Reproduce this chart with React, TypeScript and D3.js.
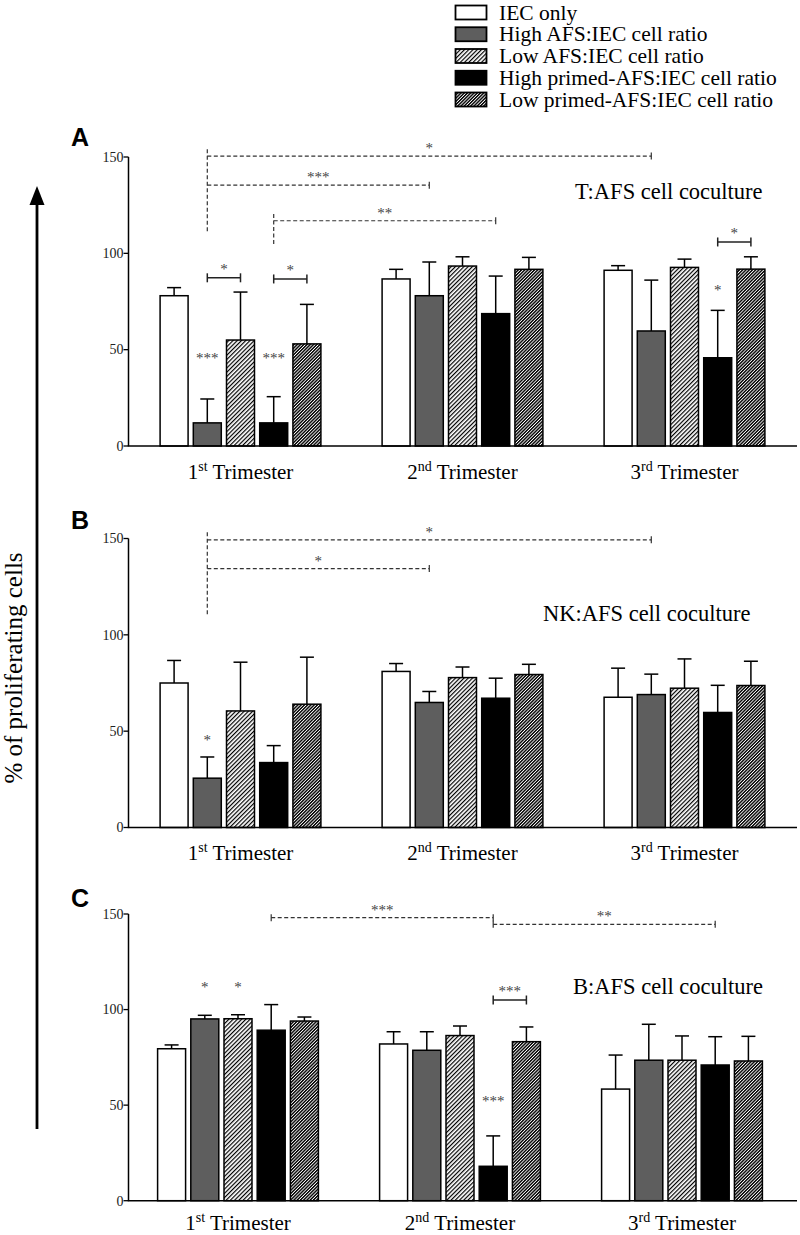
import * as d3 from 'd3';

// groups and series
const trimesters = ['1', '2', '3'];
const trimesterSup = ['st', 'nd', 'rd'];
const seriesNames = [
  'IEC only',
  'High AFS:IEC cell ratio',
  'Low AFS:IEC cell ratio',
  'High primed-AFS:IEC cell ratio',
  'Low primed-AFS:IEC cell ratio',
];
const yTicks = [0, 50, 100, 150];

// A: T cell coculture (mean, SD) per trimester x series
const tMean = [
  [78, 12, 55, 12, 53],
  [86.7, 78, 93.4, 68.7, 91.7],
  [91.2, 59.7, 92.7, 45.8, 91.8],
];
const tSd = [
  [4.2, 12.4, 24.9, 13.6, 20.5],
  [5, 17.5, 4.8, 19.5, 6.2],
  [2.4, 26.4, 4.3, 24.6, 6.4],
];

// B: NK cell coculture
const nkMean = [
  [75, 25.6, 60.5, 33.7, 64],
  [81, 64.9, 77.8, 67.1, 79.4],
  [67.6, 69, 72.3, 59.7, 73.7],
];
const nkSd = [
  [11.7, 11, 25.3, 8.8, 24.4],
  [4.1, 5.7, 5.5, 10.4, 5.3],
  [15.1, 10.6, 15.2, 14.1, 12.6],
];

// C: B cell coculture
const bMean = [
  [79.5, 95.1, 95.2, 89.2, 94],
  [82, 78.7, 86.4, 18, 83.2],
  [58.4, 73.5, 73.5, 71, 73.1],
];
const bSd = [
  [2, 1.9, 2.1, 13.4, 2.1],
  [6.4, 9.7, 5, 15.9, 7.7],
  [17.8, 18.8, 12.7, 14.8, 12.9],
];

// significance marks: [trimester, series] refs, level in y units
type Ref = [number, number];
interface Link { from: Ref; to: Ref; level: number; label: string }
interface Drop { at: Ref; top: number; bottom: number }
interface Mark { at: Ref; level: number; label: string }

const tDashes: Link[] = [
  { from: [0, 1], to: [2, 1], level: 150.5, label: '*' },
  { from: [0, 1], to: [1, 1], level: 135.4, label: '***' },
  { from: [0, 3], to: [1, 3], level: 116.9, label: '**' },
];
const tDrops: Drop[] = [
  { at: [0, 1], top: 154, bottom: 110.7 },
  { at: [0, 3], top: 120.4, bottom: 103.8 },
];
const tBrackets: Link[] = [
  { from: [0, 1], to: [0, 2], level: 87.3, label: '*' },
  { from: [0, 3], to: [0, 4], level: 86.7, label: '*' },
  { from: [2, 3], to: [2, 4], level: 105.9, label: '*' },
];
const tMarks: Mark[] = [
  { at: [0, 1], level: 46.3, label: '***' },
  { at: [0, 3], level: 46.3, label: '***' },
  { at: [2, 3], level: 82, label: '*' },
];

const nkDashes: Link[] = [
  { from: [0, 1], to: [2, 1], level: 149.3, label: '*' },
  { from: [0, 1], to: [1, 1], level: 134.4, label: '*' },
];
const nkDrops: Drop[] = [{ at: [0, 1], top: 153.3, bottom: 109.8 }];
const nkBrackets: Link[] = [];
const nkMarks: Mark[] = [{ at: [0, 1], level: 46.3, label: '*' }];

const bDashes: Link[] = [
  { from: [0, 3], to: [1, 3], level: 148.1, label: '***' },
  { from: [1, 3], to: [2, 3], level: 144.6, label: '**' },
];
const bDrops: Drop[] = [];
const bBrackets: Link[] = [{ from: [1, 3], to: [1, 4], level: 105, label: '***' }];
const bMarks: Mark[] = [
  { at: [0, 1], level: 112.5, label: '*' },
  { at: [0, 2], level: 112.5, label: '*' },
  { at: [1, 3], level: 53.2, label: '***' },
];

const panels = [
  {
    letter: 'A', title: 'T:AFS cell coculture', mean: tMean, sd: tSd,
    dashes: tDashes, drops: tDrops, brackets: tBrackets, marks: tMarks, leftTicks: false,
    top: 157, bottom: 446, dx: 0, titleX: 575, titleY: 199, letterY: 146, labelY: 478.5,
  },
  {
    letter: 'B', title: 'NK:AFS cell coculture', mean: nkMean, sd: nkSd,
    dashes: nkDashes, drops: nkDrops, brackets: nkBrackets, marks: nkMarks, leftTicks: false,
    top: 538.5, bottom: 827.5, dx: 0, titleX: 543, titleY: 621, letterY: 529, labelY: 860,
  },
  {
    letter: 'C', title: 'B:AFS cell coculture', mean: bMean, sd: bSd,
    dashes: bDashes, drops: bDrops, brackets: bBrackets, marks: bMarks, leftTicks: true,
    top: 914, bottom: 1200.7, dx: -2.5, titleX: 573, titleY: 994, letterY: 907, labelY: 1229.5,
  },
];

const serif = '"Liberation Serif", "Times New Roman", serif';
const sans = '"Liberation Sans", Arial, sans-serif';
const fills = ['#ffffff', '#5e5e5e', 'url(#hatchLight)', '#000000', 'url(#hatchDark)'];
const starColor = '#444';
const dashColor = '#333';

const axisX = 128.5;
const axisEnd = 797;

const xGroup = d3.scalePoint<string>().domain(trimesters).range([240.5, 684.5]);
const xSeries = d3
  .scaleBand<number>()
  .domain(d3.range(seriesNames.length))
  .range([-80.4, 80.4])
  .paddingInner(0.157);

function Panel({ p }: { p: (typeof panels)[number] }) {
  const y = d3.scaleLinear().domain([0, 150]).range([p.bottom, p.top]);
  const bw = xSeries.bandwidth();
  const left = (g: number, s: number) => (xGroup(trimesters[g]) ?? 0) + (xSeries(s) ?? 0) + p.dx;
  const cx = (r: Ref) => left(r[0], r[1]) + bw / 2;
  const cap = 7;

  return (
    <g>
      <text x={71} y={p.letterY} fontFamily={sans} fontWeight="bold" fontSize={25}>
        {p.letter}
      </text>
      <text x={p.titleX} y={p.titleY} fontFamily={serif} fontSize={22.5}>
        {p.title}
      </text>

      {/* bars and error bars */}
      {p.mean.map((row, g) =>
        row.map((v, s) => {
          const x = left(g, s);
          const xc = x + bw / 2;
          const yt = y(v);
          const ye = y(v + p.sd[g][s]);
          return (
            <g key={`${g}-${s}`}>
              <line x1={xc} x2={xc} y1={yt} y2={ye} stroke="#000" strokeWidth={1.5} />
              <line x1={xc - cap} x2={xc + cap} y1={ye} y2={ye} stroke="#000" strokeWidth={1.5} />
              <rect
                x={x}
                y={yt}
                width={bw}
                height={y(0) - yt}
                fill={fills[s]}
                stroke="#000"
                strokeWidth={1.5}
              />
            </g>
          );
        })
      )}

      {/* axes */}
      <line x1={axisX} x2={axisX} y1={y(150)} y2={y(0)} stroke="#000" strokeWidth={1.5} />
      <line x1={axisX - 0.75} x2={axisEnd} y1={y(0)} y2={y(0)} stroke="#000" strokeWidth={1.5} />
      {yTicks.map((t) => (
        <g key={t}>
          <line x1={axisX - 5} x2={axisX} y1={y(t)} y2={y(t)} stroke="#000" strokeWidth={1.3} />
          <text
            x={axisX - 5}
            y={y(t) + 4.8}
            textAnchor="end"
            fontFamily={serif}
            fontSize={14}
            fill="#222"
          >
            {t}
          </text>
        </g>
      ))}
      {trimesters.map((t, i) => (
        <text
          key={t}
          x={(xGroup(t) ?? 0) + p.dx}
          y={p.labelY}
          textAnchor="middle"
          fontFamily={serif}
          fontSize={21}
        >
          {t}
          <tspan fontSize={14} dy={-8}>
            {trimesterSup[i]}
          </tspan>
          <tspan dy={8}> Trimester</tspan>
        </text>
      ))}

      {/* dashed comparisons */}
      {p.drops.map((d, i) => (
        <line
          key={`d${i}`}
          x1={cx(d.at)}
          x2={cx(d.at)}
          y1={y(d.top)}
          y2={y(d.bottom)}
          stroke={dashColor}
          strokeWidth={1.2}
          strokeDasharray="4 2.5"
        />
      ))}
      {p.dashes.map((d, i) => {
        const x1 = cx(d.from);
        const x2 = cx(d.to);
        const yy = y(d.level);
        return (
          <g key={`l${i}`}>
            <line x1={x1} x2={x2} y1={yy} y2={yy} stroke={dashColor} strokeWidth={1.2} strokeDasharray="4 2.5" />
            <line x1={x2} x2={x2} y1={yy - 3.5} y2={yy + 3.5} stroke={dashColor} strokeWidth={1.2} />
            {p.leftTicks && (
              <line x1={x1} x2={x1} y1={yy - 3.5} y2={yy + 3.5} stroke={dashColor} strokeWidth={1.2} />
            )}
            <text x={(x1 + x2) / 2} y={yy - 3} textAnchor="middle" fontFamily={serif} fontSize={15} fill={starColor}>
              {d.label}
            </text>
          </g>
        );
      })}

      {/* solid brackets */}
      {p.brackets.map((b, i) => {
        const x1 = cx(b.from);
        const x2 = cx(b.to);
        const yy = y(b.level);
        return (
          <g key={`b${i}`}>
            <line x1={x1} x2={x2} y1={yy} y2={yy} stroke="#222" strokeWidth={1.5} />
            <line x1={x1} x2={x1} y1={yy - 4.5} y2={yy + 4.5} stroke="#222" strokeWidth={1.5} />
            <line x1={x2} x2={x2} y1={yy - 4.5} y2={yy + 4.5} stroke="#222" strokeWidth={1.5} />
            <text x={(x1 + x2) / 2} y={yy - 4} textAnchor="middle" fontFamily={serif} fontSize={15} fill={starColor}>
              {b.label}
            </text>
          </g>
        );
      })}

      {/* stars over bars */}
      {p.marks.map((m, i) => (
        <text
          key={`m${i}`}
          x={cx(m.at)}
          y={y(m.level) + 6.5}
          textAnchor="middle"
          fontFamily={serif}
          fontSize={15}
          fill={starColor}
        >
          {m.label}
        </text>
      ))}
    </g>
  );
}

export default function App() {
  const legendY = d3.scaleLinear().domain([0, 4]).range([12.5, 99.5]);
  return (
    <svg
      width={800}
      height={1235}
      viewBox="0 0 800 1235"
      style={{ position: 'absolute', left: 0, top: 0, background: '#fff' }}
    >
      <defs>
        <pattern id="hatchLight" patternUnits="userSpaceOnUse" width={3} height={6} patternTransform="rotate(45)">
          <rect width={3} height={6} fill="#fff" />
          <line x1={0.6} x2={0.6} y1={0} y2={6} stroke="#000" strokeWidth={1.2} />
        </pattern>
        <pattern id="hatchDark" patternUnits="userSpaceOnUse" width={2.3} height={6} patternTransform="rotate(45)">
          <rect width={2.3} height={6} fill="#fff" />
          <line x1={0.7} x2={0.7} y1={0} y2={6} stroke="#000" strokeWidth={1.45} />
        </pattern>
      </defs>
      <rect width={800} height={1235} fill="#fff" />

      {/* legend */}
      {seriesNames.map((name, i) => (
        <g key={name}>
          <rect
            x={455.5}
            y={legendY(i) - 7}
            width={31}
            height={14}
            fill={fills[i]}
            stroke="#000"
            strokeWidth={1.8}
          />
          <text x={499} y={legendY(i) + 7} fontFamily={serif} fontSize={21.5}>
            {name}
          </text>
        </g>
      ))}

      {/* shared y label with arrow */}
      <line x1={37} x2={37} y1={203} y2={1129} stroke="#000" strokeWidth={2.8} />
      <path d="M37,186 L29.5,205 L44.5,205 Z" fill="#000" />
      <text
        transform="translate(22,668) rotate(-90)"
        textAnchor="middle"
        fontFamily={serif}
        fontSize={25}
      >
        % of proliferating cells
      </text>

      {panels.map((p) => (
        <Panel key={p.letter} p={p} />
      ))}
    </svg>
  );
}
